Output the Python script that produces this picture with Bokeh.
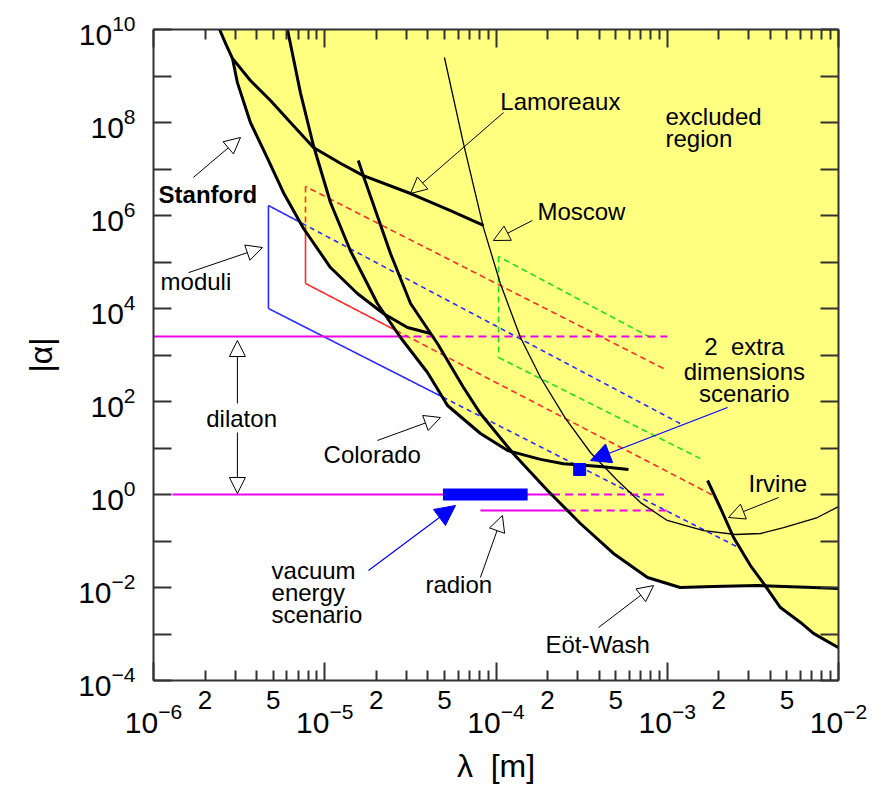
import numpy as np
from bokeh.plotting import figure
from bokeh.models import LogAxis, FixedTicker, Arrow, NormalHead, Label
from bokeh.embed import file_html
from bokeh.resources import INLINE

# ---------------- data (lambda [m], |alpha|) ----------------
lamoreaux_lam = [2.43e-6, 2.67e-6, 2.89e-6, 3.68e-6, 4.82e-6, 6.31e-6, 8.59e-6, 1.24e-5, 1.68e-5, 3.17e-5, 5.42e-5, 8.45e-5]
lamoreaux_alpha = [1e10, 4.5e9, 2.4e9, 8.0e8, 2.97e8, 1.0e8, 2.9e7, 1.31e7, 7.2e6, 2.97e6, 1.28e6, 6.1e5]

stanford_lam = [2.89e-6, 3.09e-6, 3.68e-6, 4.64e-6, 5.74e-6, 7.52e-6, 1.08e-5, 1.55e-5, 2.20e-5, 3.04e-5, 4.15e-5]
stanford_alpha = [2.4e9, 7.2e8, 1.0e8, 1.68e7, 3.1e6, 5.25e5, 7.6e4, 2.1e4, 7.8e3, 3.9e3, 2.9e3]

colorado_lam = [6.06e-6, 7.21e-6, 8.59e-6, 1.08e-5, 1.41e-5, 2.03e-5, 2.77e-5, 3.98e-5, 5.21e-5, 8.11e-5, 1.17e-4, 1.82e-4, 2.48e-4, 4.07e-4, 5.94e-4]
colorado_alpha = [1e10, 4.4e8, 3.2e7, 1.9e6, 1.77e5, 1.28e4, 2.38e3, 421, 82, 20.5, 8.8, 5.7, 4.6, 4.0, 3.45]

eotwash_lam = [1.57e-5, 1.68e-5, 2.42e-5, 3.17e-5, 4.55e-5, 6.46e-5, 8.11e-5, 1.26e-4, 2.0e-4, 3.11e-4, 4.85e-4, 7.67e-4, 1.19e-3, 1.86e-3, 3.37e-3, 7.14e-3, 1e-2]
eotwash_alpha = [1.52e7, 7.2e6, 1.52e5, 1.28e4, 1.77e3, 200, 55, 7.6, 1.22, 0.238, 0.054, 0.0164, 0.010, 0.0105, 0.011, 0.010, 0.0095]

irvine_lam = [1.72e-3, 2.05e-3, 2.44e-3, 3.06e-3, 3.65e-3, 4.58e-3, 6.0e-3, 7.14e-3, 1e-2]
irvine_alpha = [2.0, 0.5, 0.119, 0.0297, 0.0122, 3.7e-3, 1.77e-3, 1.03e-3, 5.1e-4]

moscow_lam = [5.0e-5, 6.46e-5, 8.45e-5, 1.06e-4, 1.39e-4, 1.82e-4, 2.55e-4, 3.56e-4, 5.12e-4, 6.98e-4, 1.0e-3, 1.63e-3, 2.51e-3, 3.51e-3, 4.78e-3, 7.53e-3, 1e-2]
moscow_alpha = [2.5e9, 3.53e7, 5.5e5, 3.45e4, 2.38e3, 328, 43, 8.0, 2.0, 0.67, 0.276, 0.168, 0.138, 0.145, 0.195, 0.32, 0.55]

# theory predictions (polyline vertices)
moduli_lam = [1.19e-3, 4.69e-6, 4.69e-6, 2.68e-3]
moduli_alpha = [33.6, 1.64e6, 1.0e4, 0.069]
red_lam = [9.5e-4, 7.72e-6, 7.72e-6, 1.86e-3]
red_alpha = [513, 4.2e6, 3.45e4, 0.95]
green_lam = [7.98e-4, 1.035e-4, 1.035e-4, 1.56e-3]
green_alpha = [2.38e3, 1.31e5, 883, 5.94]
dilaton_hi_lam = [1e-6, 1e-3]
dilaton_hi_alpha = [2.5e3, 2.5e3]
dilaton_lo_lam = [1.29e-6, 1e-3]
dilaton_lo_alpha = [1.0, 1.0]
radion_lam = [8.11e-5, 1e-3]
radion_alpha = [0.453, 0.453]
vacuum_lam = [4.9e-5, 1.53e-4]
vacuum_alpha = [1.0, 1.0]
extra2_lam = [3.08e-4]
extra2_alpha = [3.45]

# annotation texts: (text, lambda, alpha, align, bold)
labels = [
    ("Lamoreaux", 1.06e-4, 1.81e8, "left", False),
    ("excluded", 9.77e-4, 8.6e7, "left", False),
    ("region", 9.77e-4, 2.9e7, "left", False),
    ("Moscow", 1.745e-4, 7.8e5, "left", False),
    ("Stanford", 1.07e-6, 1.81e6, "left", True),
    ("moduli", 1.10e-6, 2.44e4, "left", False),
    ("dilaton", 3.27e-6, 27.6, "center", False),
    ("Colorado", 9.84e-6, 4.64, "left", False),
    ("2\u00a0\u00a0extra", 2.82e-3, 975, "center", False),
    ("dimensions", 2.82e-3, 283, "center", False),
    ("scenario", 2.82e-3, 95, "center", False),
    ("Irvine", 2.98e-3, 1.10, "left", False),
    ("vacuum", 4.89e-6, 0.01486, "left", False),
    ("energy", 4.89e-6, 5.0e-3, "left", False),
    ("scenario", 4.89e-6, 1.68e-3, "left", False),
    ("radion", 3.87e-5, 7.43e-3, "left", False),
    ("Eöt-Wash", 1.945e-4, 3.81e-4, "left", False),
]

# arrows: (lam_tail, alpha_tail, lam_head, alpha_head, kind)
arrows = [
    (1.71e-6, 6.6e6, 3.22e-6, 4.76e7, "open"),
    (1.60e-6, 5.9e4, 4.33e-6, 2.05e5, "open"),
    (1.107e-4, 1.64e8, 3.17e-5, 2.97e6, "open"),
    (1.63e-4, 7.8e5, 9.66e-5, 2.9e5, "open"),
    (3.09e-6, 90.6, 3.09e-6, 2.05e3, "open"),
    (3.09e-6, 21.5, 3.09e-6, 1.05, "open"),
    (2.03e-5, 14.5, 4.74e-5, 45.3, "open"),
    (4.47e-3, 0.86, 2.28e-3, 0.32, "open"),
    (8.11e-5, 0.0164, 1.09e-4, 0.353, "open"),
    (3.97e-4, 1.38e-3, 8.32e-4, 0.011, "open"),
    (2.25e-3, 74.3, 3.56e-4, 5.38, "blue"),
    (1.80e-5, 0.0232, 5.80e-5, 0.58, "blue"),
]

x_decades = [1e-6, 1e-5, 1e-4, 1e-3, 1e-2]
x_minor = [k * d for d in [1e-6, 1e-5, 1e-4, 1e-3] for k in range(2, 10)]
x_25_ticks = [2e-6, 5e-6, 2e-5, 5e-5, 2e-4, 5e-4, 2e-3, 5e-3]
x_25_labels = ["2", "5", "2", "5", "2", "5", "2", "5"]
y_labeled = [1e-4, 1e-2, 1.0, 1e2, 1e4, 1e6, 1e8, 1e10]
y_unlabeled = [1e-3, 1e-1, 1e1, 1e3, 1e5, 1e7, 1e9]

YELLOW = "#FFFF80"
AXC = "#333333"
FONT = "Liberation Sans"
AXFONT = "Liberation Sans"

p = figure(x_axis_type="log", y_axis_type="log", x_range=(1e-6, 1e-2), y_range=(1e-4, 1e10),
           frame_width=685, frame_height=651, min_border_left=153, min_border_right=37,
           min_border_top=29, min_border_bottom=111, output_backend="svg",
           toolbar_location=None, outline_line_color=None, background_fill_color="white")
p.grid.visible = False

# ---------------- excluded region ----------------
exp_curves = [(lamoreaux_lam, lamoreaux_alpha), (stanford_lam, stanford_alpha),
              (colorado_lam, colorado_alpha), (eotwash_lam, eotwash_alpha),
              (irvine_lam, irvine_alpha), (moscow_lam, moscow_alpha)]
gx = np.linspace(-6, -2, 8001)
env = np.full_like(gx, np.inf)
for lam, al in exp_curves:
    lx = np.log10(lam); la = np.log10(al)
    m = (gx >= lx[0]) & (gx <= lx[-1])
    env[m] = np.minimum(env[m], np.interp(gx[m], lx, la))
env = np.where(np.isfinite(env), np.minimum(env, 10.0), 10.0)
p.varea(x=10 ** gx, y1=10 ** env, y2=1e10, fill_color=YELLOW)


def draw_split(lams, alphas, color, dash, width):
    for i in range(len(lams) - 1):
        t = np.linspace(0, 1, 800)
        lx = np.log10(lams[i]) + t * (np.log10(lams[i + 1]) - np.log10(lams[i]))
        ly = np.log10(alphas[i]) + t * (np.log10(alphas[i + 1]) - np.log10(alphas[i]))
        inside = ly > np.interp(lx, gx, env) + 1e-9
        start = 0
        for j in range(1, len(t) + 1):
            if j == len(t) or inside[j] != inside[start]:
                seg = slice(start, min(j + 1, len(t)))
                p.line(10 ** lx[seg], 10 ** ly[seg], line_color=color, line_width=width,
                       line_dash=dash if inside[start] else "solid")
                start = j


draw_split(moduli_lam, moduli_alpha, "#2A2AFF", "5 4", 1.6)
draw_split(red_lam, red_alpha, "#FF2A2A", "6 4", 1.6)
draw_split(green_lam, green_alpha, "#22DD22", "6 4", 1.6)
draw_split(dilaton_hi_lam, dilaton_hi_alpha, "#EE00EE", "8 5", 1.8)
draw_split(dilaton_lo_lam, dilaton_lo_alpha, "#EE00EE", "8 5", 1.8)
draw_split(radion_lam, radion_alpha, "#EE00EE", "8 5", 1.8)

# experimental curves
for lam, al in [(lamoreaux_lam, lamoreaux_alpha), (stanford_lam, stanford_alpha),
                (colorado_lam, colorado_alpha), (eotwash_lam, eotwash_alpha),
                (irvine_lam, irvine_alpha)]:
    p.line(lam, al, line_color="black", line_width=3)
p.line(moscow_lam, moscow_alpha, line_color="black", line_width=1.3)

p.line(vacuum_lam, vacuum_alpha, line_color="blue", line_width=12, line_cap="butt")
p.scatter(extra2_lam, extra2_alpha, marker="square", size=12, color="blue")

for (x0, y0, x1, y1, kind) in arrows:
    if kind == "open":
        head = NormalHead(size=16, fill_color=None, line_color="black", line_width=1)
        col, w = "black", 1
    else:
        head = NormalHead(size=20, fill_color="blue", line_color="blue", line_width=1)
        col, w = "blue", 1.2
    p.add_layout(Arrow(end=head, x_start=x0, y_start=y0, x_end=x1, y_end=y1,
                       line_color=col, line_width=w))

for (txt, x, y, al, bold) in labels:
    p.add_layout(Label(x=x, y=y, text=txt, text_font=FONT, text_font_size="24px",
                       text_align=al, text_baseline="alphabetic", y_offset=9,
                       text_font_style="bold" if bold else "normal", text_color="black"))

# ---------------- axes ----------------
def style_axis(ax):
    ax.axis_line_color = AXC
    ax.axis_line_width = 2
    ax.major_tick_line_color = AXC
    ax.major_tick_line_width = 2
    ax.minor_tick_line_color = AXC
    ax.minor_tick_line_width = 2
    ax.major_tick_out = 0
    ax.minor_tick_out = 0


def hide_labels(ax):
    ax.major_label_text_font_size = "1px"
    ax.major_label_text_color = None
    ax.major_label_standoff = 0

xa = p.xaxis[0]
xa.ticker = FixedTicker(ticks=x_decades, minor_ticks=x_minor)
style_axis(xa)
xa.major_tick_in = 18
xa.minor_tick_in = 10
hide_labels(xa)

xb = LogAxis(ticker=FixedTicker(ticks=x_25_ticks, minor_ticks=[]),
             major_label_overrides=dict(zip(x_25_ticks, x_25_labels)),
             axis_line_color=None, major_tick_line_color=None, minor_tick_line_color=None,
             major_tick_in=0, major_tick_out=0, minor_tick_in=0, minor_tick_out=0,
             major_label_standoff=10, major_label_text_font=AXFONT,
             major_label_text_font_size="26px", major_label_text_color="black")
p.add_layout(xb, "below")

xc = LogAxis(ticker=FixedTicker(ticks=x_decades, minor_ticks=[]),
             axis_line_color=None, major_tick_line_color=None, minor_tick_line_color=None,
             major_tick_in=0, major_tick_out=0, minor_tick_in=0, minor_tick_out=0,
             major_label_standoff=-9, major_label_text_font=AXFONT,
             major_label_text_font_size="30px", major_label_text_color="black",
             axis_label="λ\u00a0\u00a0[m]", axis_label_text_font=AXFONT, axis_label_text_font_size="32px",
             axis_label_text_font_style="normal", axis_label_standoff=12,
             axis_label_text_color="black")
p.add_layout(xc, "below")

xt = LogAxis(ticker=FixedTicker(ticks=x_decades, minor_ticks=x_minor))
style_axis(xt)
xt.major_tick_in = 18
xt.minor_tick_in = 10
hide_labels(xt)
p.add_layout(xt, "above")

ya = p.yaxis[0]
ya.ticker = FixedTicker(ticks=y_labeled, minor_ticks=y_unlabeled)
style_axis(ya)
ya.major_tick_in = 18
ya.minor_tick_in = 18
ya.major_label_standoff = 18
ya.major_label_text_font = AXFONT
ya.major_label_text_font_size = "30px"
ya.major_label_text_color = "black"
ya.axis_label = "|α|"
ya.axis_label_text_font = FONT
ya.axis_label_text_font_size = "32px"
ya.axis_label_text_font_style = "normal"
ya.axis_label_standoff = 16
ya.axis_label_text_color = "black"

yr = LogAxis(ticker=FixedTicker(ticks=sorted(y_labeled + y_unlabeled), minor_ticks=[]))
style_axis(yr)
yr.major_tick_in = 18
hide_labels(yr)
p.add_layout(yr, "right")

open("out.html", "w").write(file_html(p, INLINE))
